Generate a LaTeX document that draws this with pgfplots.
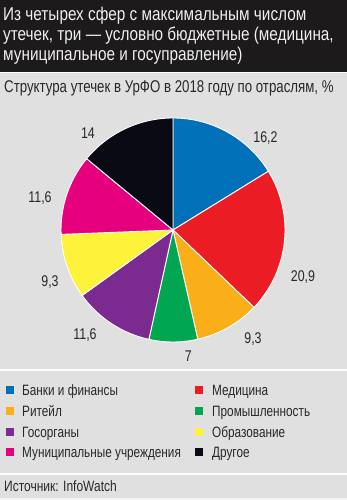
\documentclass[border=0pt]{standalone}
\usepackage{pgfplots}
\pgfplotsset{compat=1.18}
\usepackage{pgfplotstable}
\usepackage{fontspec}
\setmainfont{Liberation Sans}[FakeStretch=0.8]
\newfontfamily\titlefont{Liberation Sans}[FakeStretch=0.828]
\newfontfamily\subfont{Liberation Sans}[FakeStretch=0.78]
\newfontfamily\legfont{Liberation Sans}[FakeStretch=0.785]

\definecolor{cBlue}{RGB}{0,112,184}
\definecolor{cRed}{RGB}{236,28,36}
\definecolor{cOrange}{RGB}{250,175,25}
\definecolor{cGreen}{RGB}{0,166,81}
\definecolor{cPurple}{RGB}{123,42,144}
\definecolor{cYellow}{RGB}{255,242,58}
\definecolor{cMagenta}{RGB}{230,0,126}
\definecolor{cBlack}{RGB}{10,10,20}
\definecolor{bg}{RGB}{224,224,224}
\definecolor{band}{RGB}{28,26,26}
\definecolor{txt}{RGB}{40,40,40}

% share (%) of leaks by sector, clockwise from 12 o'clock
\pgfplotstableread{
value color
16.2  cBlue
20.9  cRed
9.3   cOrange
7     cGreen
11.6  cPurple
9.3   cYellow
11.6  cMagenta
14    cBlack
}\pietable

\pgfplotstablegetrowsof{\pietable}
\pgfmathtruncatemacro\nrows{\pgfplotsretval-1}
\gdef\slices{}
\gdef\pcum{0}
\foreach \i in {0,...,\nrows}{%
  \pgfplotstablegetelem{\i}{value}\of\pietable \let\pval\pgfplotsretval
  \pgfplotstablegetelem{\i}{color}\of\pietable \let\pcol\pgfplotsretval
  \pgfmathsetmacro\angA{90-\pcum/99.9*360}%
  \pgfmathsetmacro\angB{90-(\pcum+\pval)/99.9*360}%
  \pgfmathsetmacro\sx{173+112*cos(\angA)}%
  \pgfmathsetmacro\sy{270+112*sin(\angA)}%
  \xdef\slices{\slices\noexpand\fill[\pcol, draw=white, line width=0.9pt] (axis cs:173,270) -- (axis cs:\sx,\sy) arc[start angle=\angA, end angle=\angB, radius=112pt] -- cycle;}%
  \pgfmathsetmacro\newcum{\pcum+\pval}\xdef\pcum{\newcum}%
}

\begin{document}
\begin{tikzpicture}
\begin{axis}[
  x=1pt, y=1pt, xmin=0, xmax=347, ymin=0, ymax=500,
  hide axis, clip=false,
]
% background and bands
\fill[bg] (axis cs:0,0) rectangle (axis cs:347,500);
\fill[band] (axis cs:0,428) rectangle (axis cs:347,500);
\fill[white!92!bg] (axis cs:0,427) rectangle (axis cs:347,428);
\fill[white] (axis cs:0,129.3) rectangle (axis cs:347,130.7);
\fill[white] (axis cs:0,25.3) rectangle (axis cs:347,26.7);
\fill[white!60!bg] (axis cs:0,0) rectangle (axis cs:347,2);

% title
\begin{scope}[every node/.style={anchor=base west, inner sep=0pt, text=white!94!black, font=\titlefont\fontsize{18.5}{20}\selectfont}]
\node at (axis cs:3,479.3) {Из четырех сфер с максимальным числом};
\node at (axis cs:3,459.3) {утечек, три — условно бюджетные (медицина,};
\node at (axis cs:3,439.3) {муниципальное и госуправление)};
\end{scope}
\node[anchor=base west, inner sep=0pt, text=txt, font=\subfont\fontsize{17}{19}\selectfont] at (axis cs:4,407.3) {Структура утечек в УрФО в 2018 году по отраслям, \%};

% pie
\slices

% value labels
\begin{scope}[every node/.style={anchor=base, inner sep=0pt, text=txt, font=\fontsize{15.5}{17}\selectfont}]
\node at (axis cs:265.5,357.3) {16,2};
\node at (axis cs:303,218.3) {20,9};
\node at (axis cs:253,156.7) {9,3};
\node at (axis cs:188.3,138.3) {7};
\node at (axis cs:85,160) {11,6};
\node at (axis cs:50,213.3) {9,3};
\node at (axis cs:40,297.7) {11,6};
\node at (axis cs:88,361.7) {14};
\end{scope}

% legend
\begin{scope}[every node/.style={anchor=base west, inner sep=0pt, text=txt, font=\legfont\fontsize{15}{17}\selectfont}]
\fill[cBlue]    (axis cs:6,105.5) rectangle (axis cs:14,113.5);
\node at (axis cs:22,104) {Банки и финансы};
\fill[cOrange]  (axis cs:6,84.8) rectangle (axis cs:14,92.8);
\node at (axis cs:22,83.3) {Ритейл};
\fill[cPurple]  (axis cs:6,64.2) rectangle (axis cs:14,72.2);
\node at (axis cs:22,62.7) {Госорганы};
\fill[cMagenta] (axis cs:6,43.5) rectangle (axis cs:14,51.5);
\node at (axis cs:22,42) {Муниципальные учреждения};
\fill[cRed]     (axis cs:195,105.5) rectangle (axis cs:203,113.5);
\node at (axis cs:212,104) {Медицина};
\fill[cGreen]   (axis cs:195,84.8) rectangle (axis cs:203,92.8);
\node at (axis cs:212,83.3) {Промышленность};
\fill[cYellow]  (axis cs:195,64.2) rectangle (axis cs:203,72.2);
\node at (axis cs:212,62.7) {Образование};
\fill[cBlack]   (axis cs:195,43.5) rectangle (axis cs:203,51.5);
\node at (axis cs:212,42) {Другое};
\end{scope}

% source
\node[anchor=base west, inner sep=0pt, text=txt, font=\fontsize{15}{17}\selectfont] at (axis cs:4,8.3) {Источник: InfoWatch};
\end{axis}
\end{tikzpicture}
\end{document}
